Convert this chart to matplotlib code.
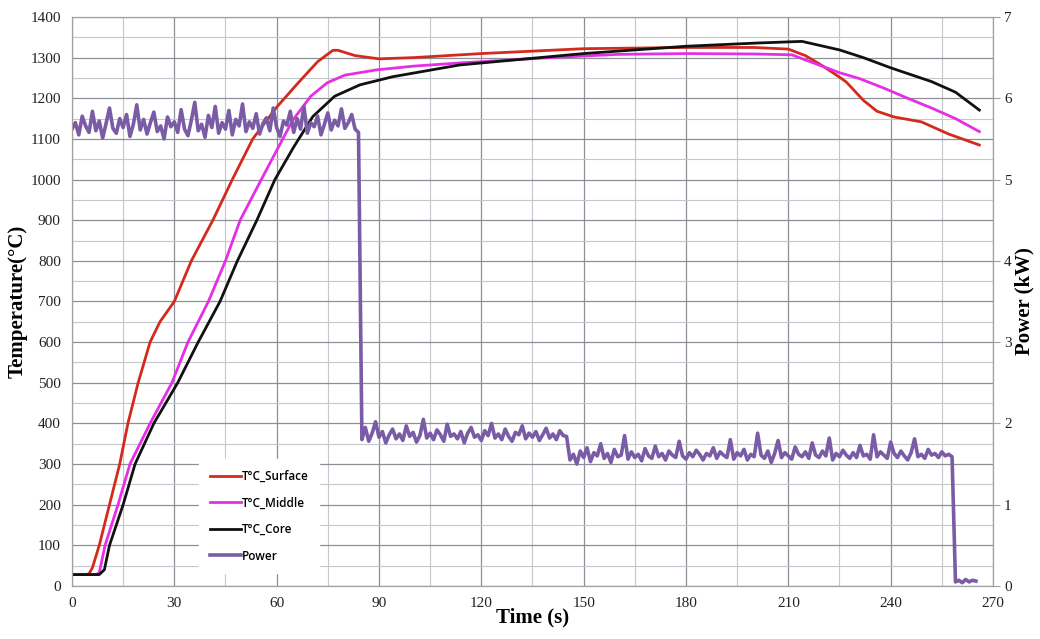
import numpy as np
import matplotlib
matplotlib.use("Agg")
import matplotlib.pyplot as plt
from matplotlib.ticker import MultipleLocator

# Temperature curves (time in s, temperature in degC)
surface_t = [0, 4, 5, 6, 8, 11, 14, 16.4, 19.4, 22.9, 25.8, 30, 35, 41.3, 47, 53, 60, 66, 72, 76.5,
             78, 83, 90, 100, 120, 150, 180, 200, 210, 215, 220, 225, 227, 232, 236, 241, 249, 257, 266]
surface_T = [28, 28, 30, 45, 100, 200, 300, 400, 500, 600, 650, 700, 800, 900, 1000, 1100, 1178, 1235, 1290, 1318,
             1318, 1305, 1297, 1300, 1310, 1322, 1325, 1325, 1321, 1305, 1280, 1252, 1240, 1195, 1168, 1154, 1142, 1112, 1085]

middle_t = [0, 7, 8, 9.7, 13.5, 17, 22.9, 29.3, 34, 40, 45, 49.3, 55.5, 61.8, 64.8, 70, 74.8, 80, 89.4, 100,
            113.7, 140, 160, 180, 200, 211, 218, 225, 231, 238, 245, 252, 259, 266]
middle_T = [28, 28, 32, 100, 200, 300, 400, 500, 600, 700, 800, 900, 1000, 1100, 1147, 1205, 1238, 1257, 1270, 1279,
            1287, 1300, 1308, 1310, 1309, 1307, 1285, 1263, 1248, 1225, 1200, 1176, 1150, 1118]

core_t = [0, 8, 9.5, 11, 15, 18.5, 24, 31, 37, 43.4, 48.5, 54.2, 59.5, 65, 70.6, 77, 84.4, 94, 113.7, 150,
          180, 201, 214, 225, 232, 240, 252, 259, 266]
core_T = [28, 28, 40, 100, 200, 300, 400, 500, 600, 700, 800, 900, 1000, 1080, 1155, 1205, 1233, 1253, 1282, 1310,
          1328, 1336, 1340, 1319, 1300, 1275, 1241, 1215, 1171]

# Power (kW), one reading per second from 0 to 265 s
power_kw = [
    5.62, 5.70, 5.55, 5.78, 5.66, 5.58, 5.84, 5.60, 5.72, 5.51, 5.69, 5.88, 5.63, 5.57, 5.75, 5.64, 5.80, 5.53, 5.68, 5.92,
    5.61, 5.74, 5.56, 5.70, 5.83, 5.59, 5.66, 5.50, 5.77, 5.65, 5.71, 5.58, 5.86, 5.62, 5.54, 5.73, 5.95, 5.60, 5.68, 5.52,
    5.79, 5.64, 5.90, 5.57, 5.70, 5.62, 5.85, 5.55, 5.74, 5.66, 5.93, 5.59, 5.71, 5.63, 5.81, 5.56, 5.69, 5.76, 5.60, 5.88,
    5.64, 5.53, 5.72, 5.67, 5.84, 5.58, 5.75, 5.62, 5.90, 5.57, 5.70, 5.65, 5.78, 5.55, 5.68, 5.82, 5.61, 5.73, 5.66, 5.87,
    5.63, 5.70, 5.80, 5.62, 5.58,
    1.80, 1.95, 1.78, 1.88, 2.02, 1.83, 1.90, 1.76, 1.86, 1.93,
    1.81, 1.87, 1.79, 1.97, 1.84, 1.89, 1.77, 1.85, 2.05, 1.82,
    1.88, 1.80, 1.92, 1.86, 1.78, 1.99, 1.84, 1.87, 1.81, 1.90,
    1.76, 1.88, 1.95, 1.83, 1.86, 1.79, 1.91, 1.85, 2.00, 1.82,
    1.87, 1.80, 1.93, 1.84, 1.78, 1.89, 1.86, 1.97, 1.81, 1.88,
    1.83, 1.90, 1.79, 1.86, 1.94, 1.82, 1.87, 1.80, 1.91, 1.85, 1.84,
    1.55, 1.62, 1.50, 1.66, 1.58, 1.70, 1.53, 1.64, 1.60, 1.75,
    1.57, 1.63, 1.52, 1.68, 1.59, 1.61, 1.85, 1.56, 1.65, 1.58,
    1.62, 1.54, 1.69, 1.60, 1.57, 1.72, 1.59, 1.63, 1.55, 1.66,
    1.61, 1.58, 1.78, 1.60, 1.56, 1.64, 1.59, 1.67, 1.62, 1.55,
    1.63, 1.60, 1.70, 1.57, 1.65, 1.61, 1.58, 1.80, 1.56, 1.64,
    1.60, 1.68, 1.55, 1.62, 1.59, 1.88, 1.61, 1.57, 1.66, 1.52,
    1.63, 1.79, 1.58, 1.64, 1.60, 1.56, 1.71, 1.62, 1.59, 1.65,
    1.57, 1.76, 1.61, 1.58, 1.66, 1.60, 1.82, 1.55, 1.63, 1.59,
    1.67, 1.61, 1.57, 1.64, 1.58, 1.73, 1.60, 1.62, 1.56, 1.86,
    1.59, 1.65, 1.61, 1.57, 1.77, 1.63, 1.58, 1.66, 1.60, 1.55,
    1.64, 1.81, 1.59, 1.62, 1.57, 1.68, 1.61, 1.63, 1.58, 1.65,
    1.60, 1.62, 1.59,
    0.05, 0.07, 0.04, 0.08, 0.05, 0.07, 0.06,
]
power_t = np.arange(len(power_kw))

serif = 'Liberation Serif'

fig = plt.figure(figsize=(10.4, 6.39), dpi=100)
ax = fig.add_axes([0.0692, 0.083, 0.8856, 0.8904])
ax2 = ax.twinx()

# grid
ax.set_xlim(0, 270)
ax.set_ylim(0, 1400)
ax.xaxis.set_major_locator(MultipleLocator(30))
ax.xaxis.set_minor_locator(MultipleLocator(15))
ax.yaxis.set_major_locator(MultipleLocator(100))
ax.yaxis.set_minor_locator(MultipleLocator(50))
ax.grid(which='major', color='#8c9096', lw=0.9)
ax.grid(which='minor', color='#c4c7cb', lw=0.8)
ax.set_axisbelow(True)

l1, = ax.plot(surface_t, surface_T, color='#d42a1e', lw=2, label='T°C_Surface')
l2, = ax.plot(middle_t, middle_T, color='#e62ee6', lw=2, label='T°C_Middle')
l3, = ax.plot(core_t, core_T, color='#111111', lw=2, label='T°C_Core')

ax2.set_ylim(0, 7)
ax2.yaxis.set_major_locator(MultipleLocator(1))
l4, = ax2.plot(power_t, power_kw, color='#7a5ca6', lw=2.6, label='Power')

for a in (ax, ax2):
    for s in a.spines.values():
        s.set_color('#a0a0a0')
        s.set_linewidth(0.8)

ax.tick_params(axis='both', which='both', length=0, pad=8, labelsize=11, labelcolor='#222222')
ax2.tick_params(axis='y', length=5, color='#a0a0a0', pad=3, labelsize=11, labelcolor='#222222')
for lab in ax.get_xticklabels() + ax.get_yticklabels() + ax2.get_yticklabels():
    lab.set_fontfamily(serif)

ax.set_xlabel('Time (s)', fontsize=15, fontweight='bold', family=serif, labelpad=-2)
ax.set_ylabel('Temperature(°C)', fontsize=15, fontweight='bold', family=serif, labelpad=2)
ax2.set_ylabel('Power (kW)', fontsize=15, fontweight='bold', family=serif, rotation=90, labelpad=2)

leg = ax2.legend(handles=[l1, l2, l3, l4], loc='lower left', bbox_to_anchor=(0.132, 0.012),
                 frameon=True, fancybox=False, edgecolor='white', framealpha=1,
                 prop={'family': 'Open Sans', 'size': 8.5, 'weight': 'semibold'},
                 handlelength=2.6, handletextpad=0.1, labelspacing=1.15, borderpad=0.9)
leg.set_zorder(10)

fig.savefig('out.png', dpi=100)
